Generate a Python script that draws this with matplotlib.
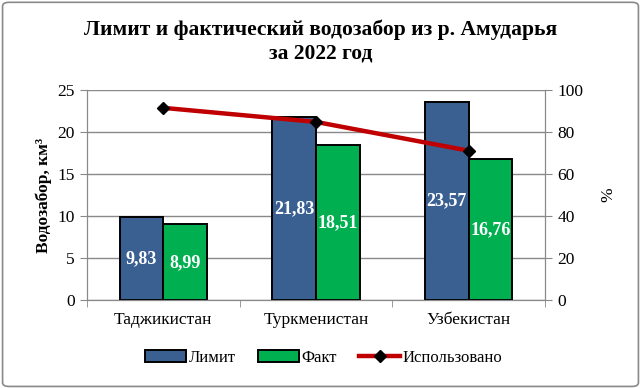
import matplotlib
matplotlib.use('Agg')
import matplotlib.pyplot as plt
from matplotlib.patches import FancyBboxPatch
import numpy as np

plt.rcParams['font.family'] = ['Liberation Serif', 'DejaVu Serif']

countries = ['Таджикистан', 'Туркменистан', 'Узбекистан']
limit = [9.83, 21.83, 23.57]
fact = [8.99, 18.51, 16.76]
used_pct = [91.5, 84.8, 71.1]

blue = '#3A6091'
green = '#00B050'
red = '#C00000'
grey = '#898989'

fig = plt.figure(figsize=(6.41, 3.88), dpi=100)
# outer frame
fig.patches.append(FancyBboxPatch((0.004, 0.004), 0.992, 0.99, boxstyle='round,pad=0,rounding_size=0.01',
                                  transform=fig.transFigure, fill=False, edgecolor=grey, linewidth=1.2))

ax = fig.add_axes([87/641, 1 - 300/388, (545 - 87)/641, (300 - 90)/388])
x = np.arange(len(countries))
w = 0.285

b1 = ax.bar(x - w/2, limit, w, color=blue, edgecolor='black', linewidth=1.4, label='Лимит', zorder=3)
b2 = ax.bar(x + w/2, fact, w, color=green, edgecolor='black', linewidth=1.4, label='Факт', zorder=3)

for bars, vals in ((b1, limit), (b2, fact)):
    for r, v in zip(bars, vals):
        ax.text(r.get_x() + r.get_width()/2, v/2, f'{v:.2f}'.replace('.', ','),
                ha='center', va='center', color='white', fontsize=13, fontweight='bold', zorder=5)

ax.set_xlim(-0.5, 2.5)
ax.set_ylim(0, 25)
ax.set_yticks(range(0, 26, 5))
ax.set_xticks(x)
ax.set_xticklabels(countries, fontsize=12.5)
ax.set_xticks([-0.5, 0.5, 1.5, 2.5], minor=True)
ax.tick_params(axis='x', which='major', length=0, pad=9)
ax.tick_params(axis='x', which='minor', length=5, color=grey, direction='out')
ax.tick_params(axis='y', length=5, color=grey, labelsize=12.5, pad=4)
ax.grid(axis='y', color=grey, linewidth=1, zorder=0)
for s in ax.spines.values():
    s.set_color(grey)
ax.spines['top'].set_visible(False)
ax.set_ylabel('Водозабор, км³', fontsize=12.5, fontweight='bold', labelpad=4)

ax2 = ax.twinx()
ln, = ax2.plot(x, used_pct, color=red, linewidth=3.2, marker='D', markersize=6,
               markerfacecolor='black', markeredgecolor='black', label='Использовано', zorder=6)
ax2.set_ylim(0, 100)
ax2.set_yticks(range(0, 101, 20))
ax2.tick_params(axis='y', length=5, color=grey, labelsize=12.5, pad=4)
for s in ax2.spines.values():
    s.set_color(grey)
ax2.spines['top'].set_visible(False)
ax2.set_ylabel('%', fontsize=12.5, labelpad=12)

fig.suptitle('Лимит и фактический водозабор из р. Амударья\nза 2022 год', fontsize=15.5,
             fontweight='bold', y=0.95, linespacing=1.25)

fig.legend([b1, b2, ln], ['Лимит', 'Факт', 'Использовано'], loc='center', bbox_to_anchor=(0.505, 0.077),
           ncol=3, frameon=False, fontsize=12, handlelength=2.5, handletextpad=0.15, columnspacing=1.3)

fig.savefig('out.png', dpi=100)
